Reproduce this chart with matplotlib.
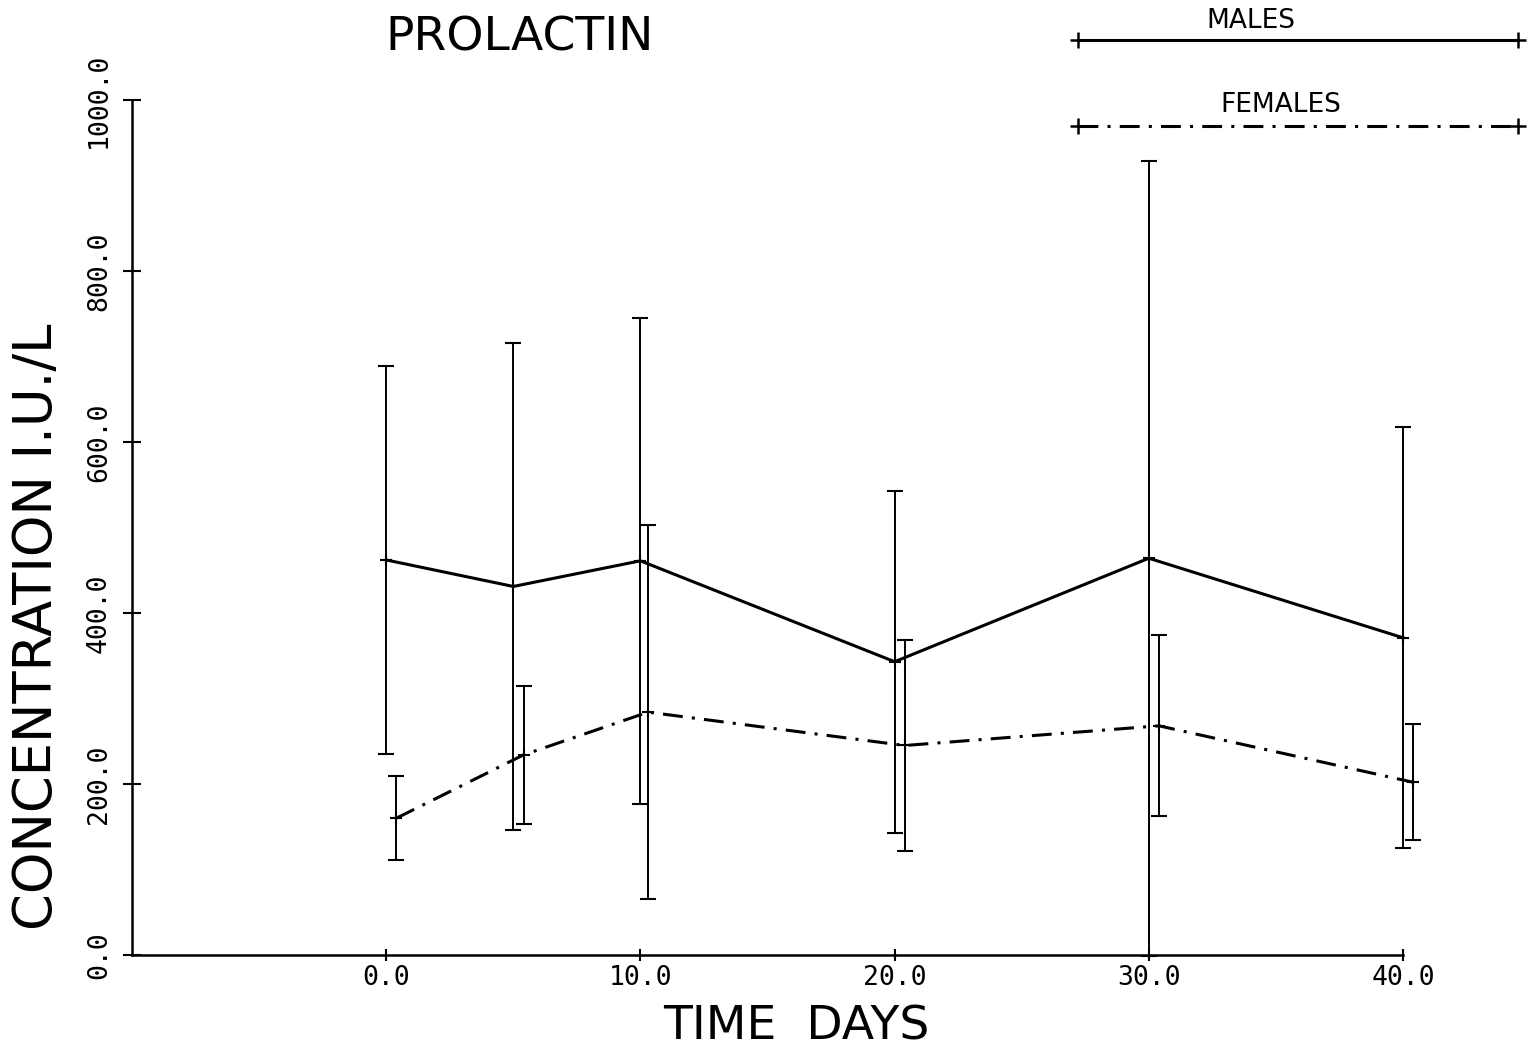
import matplotlib
matplotlib.use('Agg')
import matplotlib.pyplot as plt
from matplotlib.lines import Line2D

# prolactin (I.U./L), mean and SD per sampling day
days_m = [0, 5, 10, 20, 30, 40]
males = [462, 431, 461, 343, 464, 371]
males_sd = [227, 285, 284, 200, 465, 246]

# females are drawn slightly to the right of the males
days_f = [0.4, 5.4, 10.3, 20.4, 30.4, 40.4]
females = [160, 234, 284, 245, 268, 202]
females_sd = [49, 81, 219, 123, 106, 68]

xticks = [0, 10, 20, 30, 40]
yticks = [0, 200, 400, 600, 800, 1000]

plt.rcParams['font.family'] = ['DejaVu Sans']
dashdot = (0, (6.5, 3, 1, 3))

fig = plt.figure(figsize=(15.32, 10.5), dpi=100)
ax = fig.add_axes([0.0862, 0.0905, 0.8296, 0.8143])

eb_m = ax.errorbar(days_m, males, yerr=males_sd, color='black', ecolor='black',
                   lw=2.2, elinewidth=1.4, capsize=6, capthick=2,
                   marker='+', ms=9, mew=1.5)
eb_f = ax.errorbar(days_f, females, yerr=females_sd, color='black', ecolor='black',
                   lw=2.2, linestyle=dashdot, elinewidth=1.4, capsize=6, capthick=2,
                   marker='+', ms=9, mew=1.5)
# the last female bar sits just past the end of the time axis
for eb in (eb_m, eb_f):
    for artist in eb.get_children():
        artist.set_clip_on(False)

ax.set_xlim(-10, 40)
ax.set_ylim(0, 1000)
for side in ['top', 'right']:
    ax.spines[side].set_visible(False)
for side in ['left', 'bottom']:
    ax.spines[side].set_linewidth(1.8)

mono = {'family': 'DejaVu Sans Mono', 'size': 19}
ax.set_xticks(xticks)
ax.set_xticklabels([f'{v:.1f}' for v in xticks], fontdict=mono)
ax.set_yticks(yticks)
ax.set_yticklabels([f'{v:.1f}' for v in yticks], fontdict=mono,
                   rotation=90, va='center')
ax.tick_params(axis='x', direction='inout', length=9, width=1.5, pad=3)
ax.tick_params(axis='y', direction='inout', length=13, width=1.5, pad=8)

fig.text(0.339, 0.964, 'PROLACTIN', ha='center', va='center', fontsize=34)
fig.text(0.52, 0.022, 'TIME  DAYS', ha='center', va='center', fontsize=34)
fig.text(0.024, 0.403, 'CONCENTRATION I.U./L', rotation=90,
         ha='center', va='center', fontsize=38)

# key in the top right corner
fig.text(0.8166, 0.980, 'MALES', ha='center', va='center', fontsize=19)
fig.add_artist(Line2D([0.7037, 0.9909], [0.962, 0.962], color='black',
                      lw=2.2, marker='+', ms=12, mew=1.8))
fig.text(0.836, 0.900, 'FEMALES', ha='center', va='center', fontsize=19)
fig.add_artist(Line2D([0.7037, 0.9909], [0.880, 0.880], color='black',
                      lw=2.2, linestyle=dashdot, marker='+', ms=12, mew=1.8))

fig.savefig('out.png', dpi=100)
